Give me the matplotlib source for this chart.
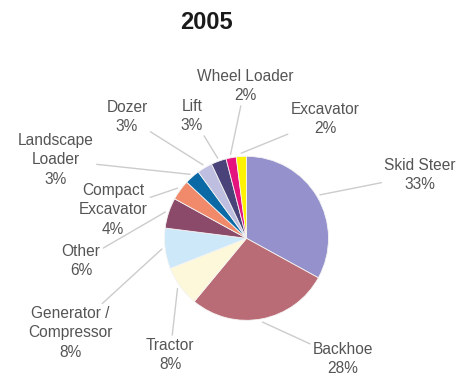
import numpy as np
import matplotlib
matplotlib.use("Agg")
import matplotlib.pyplot as plt

plt.rcParams['font.family'] = ['Liberation Sans', 'DejaVu Sans']

# equipment share, 2005 (clockwise from 12 o'clock)
categories = ["Skid Steer", "Backhoe", "Tractor", "Generator /\nCompressor", "Other",
              "Compact\nExcavator", "Landscape\nLoader", "Dozer", "Lift",
              "Wheel Loader", "Excavator"]
shares = [33, 28, 8, 8, 6, 4, 3, 3, 3, 2, 2]
colors = ["#9591cc", "#b96c75", "#fdf8d9", "#cde8f8", "#8c4a6a", "#f08a6b",
          "#0b6aa6", "#bebee0", "#4a4379", "#e5137d", "#fff200"]

# label centres, in pixels from the top-left corner
label_pos = [(420, 175), (343, 359), (170, 355), (70, 333), (81, 261),
             (113, 210), (56, 160), (127, 117), (192, 116), (245, 86), (325, 119)]

W, H = 467, 375
fig = plt.figure(figsize=(W / 100, H / 100), dpi=100)
ax = fig.add_axes([0, 0, 1, 1])

cx, cy, r = 246.5, H - 238.3, 82
wedges, _ = ax.pie(shares, colors=colors, startangle=90, counterclock=False,
                   center=(cx, cy), radius=r, frame=True,
                   wedgeprops=dict(edgecolor='#f4f4f4', linewidth=0.6))
ax.set_xlim(0, W)
ax.set_ylim(0, H)
ax.set_aspect('equal')
ax.axis('off')

for w, name, val, (lx, ly) in zip(wedges, categories, shares, label_pos):
    ang = np.deg2rad((w.theta1 + w.theta2) / 2)
    px = cx + r * 1.04 * np.cos(ang)
    py = cy + r * 1.04 * np.sin(ang)
    ax.annotate(f"{name}\n{val}%", xy=(px, py), xytext=(lx, H - ly),
                ha='center', va='center', fontsize=11.2, color='#555555',
                linespacing=1.35,
                arrowprops=dict(arrowstyle='-', color='#cccccc', lw=1,
                                shrinkA=0, shrinkB=0))

fig.text(206 / W, 1 - 22.5 / H, "2005", ha='center', va='center',
         fontsize=17, fontweight='bold', color='#1a1a1a')

fig.savefig("out.png", dpi=100)
